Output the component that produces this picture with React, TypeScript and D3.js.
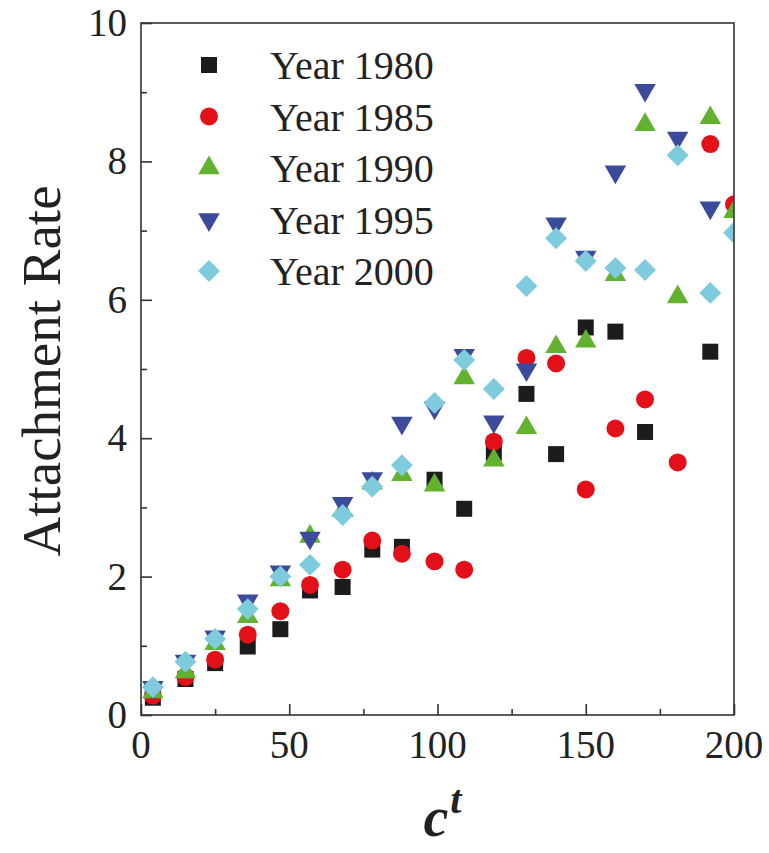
import React, { useRef, useEffect } from 'react';
import * as d3 from 'd3';

// bin centres (c^t) shared by all years
const xBins = [4, 15, 25, 36, 47, 57, 68, 78, 88, 99, 109, 119, 130, 140, 150, 160, 170, 181, 192, 200];

const year1980 = [0.25, 0.52, 0.75, 0.99, 1.24, 1.8, 1.85, 2.39, 2.43, 3.4, 2.98, 3.79, 4.64, 3.77, 5.6, 5.54, 4.09, null, 5.25, null];
const year1985 = [0.28, 0.55, 0.8, 1.16, 1.5, 1.88, 2.1, 2.52, 2.33, 2.22, 2.1, 3.95, 5.16, 5.08, 3.26, 4.14, 4.56, 3.65, 8.25, 7.38];
const year1990 = [0.33, 0.62, 1.03, 1.42, 1.95, 2.58, 2.95, 3.35, 3.47, 3.32, 4.87, 3.68, 4.15, 5.32, 5.4, 6.36, 8.53, 6.04, 8.63, 7.27];
const year1995 = [0.4, 0.78, 1.13, 1.65, 2.07, 2.56, 3.06, 3.42, 4.22, 4.44, 5.2, 4.24, 4.99, 7.1, 6.62, 7.85, 9.03, 8.34, 7.33, null];
const year2000 = [0.4, 0.77, 1.1, 1.53, 2.0, 2.17, 2.89, 3.3, 3.61, 4.51, 5.13, 4.71, 6.2, 6.89, 6.56, 6.46, 6.43, 8.09, 6.1, 6.97];

const seriesNames = ['Year 1980', 'Year 1985', 'Year 1990', 'Year 1995', 'Year 2000'];
const seriesValues = [year1980, year1985, year1990, year1995, year2000];
const seriesColors = ['#1c1c1c', '#e3101a', '#62b22f', '#3b4b9c', '#7dcbdc'];
const seriesShapes = ['square', 'circle', 'up', 'down', 'diamond'];

const xTicks = [0, 50, 100, 150, 200];
const yTicks = [0, 2, 4, 6, 8, 10];

const FONT = '"Liberation Serif", "Times New Roman", serif';

function markerPath(shape: string) {
  if (shape === 'square') return { d: d3.symbol(d3.symbolSquare, 256)(), rot: 0 };
  if (shape === 'circle') return { d: d3.symbol(d3.symbolCircle, 254)(), rot: 0 };
  if (shape === 'up') return { d: d3.symbol(d3.symbolTriangle, 200)(), rot: 0 };
  if (shape === 'down') return { d: d3.symbol(d3.symbolTriangle, 200)(), rot: 180 };
  return { d: d3.symbol(d3.symbolSquare, 240)(), rot: 45 };
}

export default function App() {
  const svgRef = useRef<SVGSVGElement>(null);

  useEffect(() => {
    const svg = d3.select(svgRef.current);
    svg.selectAll('*').remove();

    const margin = { top: 23, left: 141, right: 35, bottom: 138 };
    const width = 769 - margin.left - margin.right;
    const height = 853 - margin.top - margin.bottom;

    const x = d3.scaleLinear().domain([0, 200]).range([0, width]);
    const y = d3.scaleLinear().domain([0, 10]).range([height, 0]);

    const g = svg.append('g').attr('transform', `translate(${margin.left},${margin.top})`);

    g.append('clipPath').attr('id', 'plot-clip')
      .append('rect').attr('width', width).attr('height', height);

    // markers
    const pts = g.append('g').attr('clip-path', 'url(#plot-clip)');
    seriesValues.forEach((vals, i) => {
      const m = markerPath(seriesShapes[i]);
      const data = xBins.map((xv, j) => ({ x: xv, y: vals[j] })).filter(d => d.y != null);
      pts.selectAll(null)
        .data(data)
        .enter()
        .append('path')
        .attr('d', m.d)
        .attr('fill', seriesColors[i])
        .attr('transform', d => `translate(${x(d.x)},${y(d.y as number)}) rotate(${m.rot})`);
    });

    // frame
    g.append('rect')
      .attr('width', width).attr('height', height)
      .attr('fill', 'none').attr('stroke', '#333').attr('stroke-width', 1.6);

    // bottom ticks (inward) + labels
    const xAxis = g.append('g').attr('transform', `translate(0,${height})`)
      .call(d3.axisBottom(x).tickValues(d3.range(0, 201, 25)).tickSize(-6).tickFormat(() => ''));
    xAxis.select('.domain').remove();
    xAxis.selectAll('.tick line')
      .attr('stroke', '#333').attr('stroke-width', 1.6)
      .attr('y2', (d: any) => (d % 50 === 0 ? -11 : -6));

    g.selectAll('.xlab')
      .data(xTicks)
      .enter()
      .append('text')
      .attr('x', d => x(d))
      .attr('y', height + 43)
      .attr('text-anchor', 'middle')
      .attr('font-family', FONT)
      .attr('font-size', 39)
      .attr('fill', '#222')
      .text(d => d);

    // left ticks (inward) + labels
    const yAxis = g.append('g')
      .call(d3.axisLeft(y).tickValues(d3.range(0, 11, 1)).tickSize(-6).tickFormat(() => ''));
    yAxis.select('.domain').remove();
    yAxis.selectAll('.tick line')
      .attr('stroke', '#333').attr('stroke-width', 1.6)
      .attr('x2', (d: any) => (d % 2 === 0 ? 11 : 6));

    g.selectAll('.ylab')
      .data(yTicks)
      .enter()
      .append('text')
      .attr('x', -14)
      .attr('y', d => y(d) + 13)
      .attr('text-anchor', 'end')
      .attr('font-family', FONT)
      .attr('font-size', 39)
      .attr('fill', '#222')
      .text(d => d);

    // axis titles
    svg.append('text')
      .attr('transform', `translate(60,${margin.top + height / 2 + 2}) rotate(-90)`)
      .attr('text-anchor', 'middle')
      .attr('font-family', FONT)
      .attr('font-size', 55)
      .attr('fill', '#222')
      .text('Attachment Rate');

    const xt = svg.append('text')
      .attr('x', margin.left + width / 2 - 14)
      .attr('y', 836)
      .attr('font-family', FONT)
      .attr('font-weight', 'bold')
      .attr('font-style', 'italic')
      .attr('fill', '#222');
    xt.append('tspan').attr('font-size', 56).text('c');
    xt.append('tspan').attr('font-size', 40).attr('dy', -23).attr('dx', 2).text('t');

    // legend
    const legend = svg.append('g');
    seriesNames.forEach((name, i) => {
      const ly = 65 + i * 51.5;
      const m = markerPath(seriesShapes[i]);
      legend.append('path')
        .attr('d', m.d)
        .attr('fill', seriesColors[i])
        .attr('transform', `translate(209,${ly}) rotate(${m.rot})`);
      legend.append('text')
        .attr('x', 270)
        .attr('y', ly + 14)
        .attr('font-family', FONT)
        .attr('font-size', 40)
        .attr('fill', '#222')
        .text(name);
    });
  }, []);

  return (
    <svg
      ref={svgRef}
      width={769}
      height={853}
      style={{ position: 'absolute', left: 0, top: 0, background: '#fff' }}
    />
  );
}
